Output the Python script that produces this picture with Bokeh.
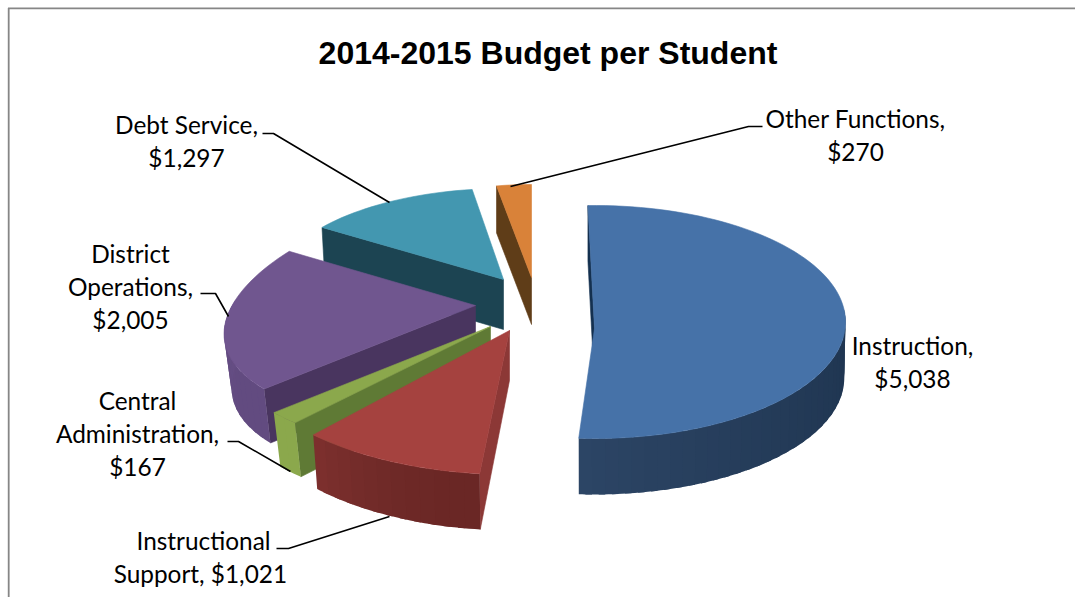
import math
from bokeh.plotting import figure
from bokeh.models import Range1d
from bokeh.core.properties import value
from bokeh.embed import file_html
from bokeh.resources import INLINE

# ---- data ----
TITLE = "2014-2015 Budget per Student"
categories = ["Instruction", "Instructional Support", "Central Administration",
              "District Operations", "Debt Service", "Other Functions"]
values = [5038, 1021, 167, 2005, 1297, 270]
label_lines = [
    ["Instruction,", "$5,038"],
    ["Instructional", "Support,  $1,021"],
    ["Central", "Administration,", "$167"],
    ["District", "Operations,", "$2,005"],
    ["Debt Service,", "$1,297"],
    ["Other Functions,", "$270"],
]

# ---- style / layout ----
top_col = ["#4672A8", "#A5423F", "#8BA84C", "#70568F", "#4397B0", "#D98239"]
rad_col = ["#14304F", "#8C3836", "#5F7A35", "#49355F", "#1C4452", "#5F3D18"]
wall_a = ["#2C4565", "#7E302E", "#8BA84C", "#6C528B", "#1C4452", "#5F3D18"]   # wall colour at slice end (left)
wall_b = ["#1B304A", "#6A2725", "#8BA84C", "#624B80", "#1C4452", "#5F3D18"]   # wall colour at slice start
ROT = -1.5
tip_x = [594, 509, 490, 475, 503, 531]
tip_y = [328, 330, 326, 305, 279, 277]
rx = [251, 285, 286, 248, 225, 203]
ry = [116.5, 144, 132, 115, 88, 93]
cy_off = [-6.5, 0, 0, 10, -3, 0]
persp = [0, 0, 0, 0.17, 0.05, 0]
nudge = [0, 2.4, 2, 3, 3, 1.5]
depth = [56, 50, 54, 54, 50, 47]
wx = [0.995, 0.98, 0.97, 0.97, 0.985, 1.0]
wy = [1.0, 1.04, 1.0, 1.0, 1.0, 1.0]
paint_order = [5, 4, 3, 2, 1, 0]

label_x = [912, 203, 137, 130, 186, 855]
label_y = [345, 540, 400, 253, 124, 118]
LINE_H = 33
leader_x = [[510, 748, 762], [262, 273, 389], [200, 215, 228], [227, 238, 290], [276, 288, 389]]
leader_y = [[186, 126, 126], [133, 133, 202], [293, 293, 316], [441, 441, 471], [548, 548, 516]]

FONT = "Lato"
FS = "24.4px"

p = figure(width=1075, height=597, output_backend="svg", toolbar_location=None,
           x_range=Range1d(0, 1075), y_range=Range1d(597, 0),
           min_border=0, outline_line_color=None)
p.axis.visible = False
p.grid.visible = False

p.line([8.2, 8.2], [7.5, 597], line_color="#868686", line_width=1.8)
p.line([7.5, 1075], [7.8, 7.8], line_color="#868686", line_width=1.8)


def lerp_col(c1, c2, t):
    a = [int(c1[i:i + 2], 16) for i in (1, 3, 5)]
    b = [int(c2[i:i + 2], 16) for i in (1, 3, 5)]
    return "#%02x%02x%02x" % tuple(round(a[i] + (b[i] - a[i]) * t) for i in range(3))


total = sum(values)
starts, a = [], ROT
for v in values:
    starts.append(a)
    a += v / total * 360


def pt(i, deg, low=False):
    t = math.radians(deg)
    u, w = math.sin(t), math.cos(t)
    dx = rx[i] * (1 - persp[i] * w) * u
    dy = cy_off[i] - ry[i] * w
    if low:
        return tip_x[i] + dx * wx[i], tip_y[i] + depth[i] + dy * wy[i]
    return tip_x[i] + dx, tip_y[i] + dy


for i in paint_order:
    a0 = starts[i] + nudge[i]
    a1 = a0 + values[i] / total * 360
    lw = 0.6
    # radial face at the start of the slice
    s_top, s_low = pt(i, a0), pt(i, a0, True)
    p.patch([tip_x[i], s_top[0], s_low[0], tip_x[i]],
            [tip_y[i], s_top[1], s_low[1], tip_y[i] + depth[i]],
            fill_color=rad_col[i], line_color=rad_col[i], line_width=lw)
    # outer wall, drawn in overlapping strips for the shading
    n = max(2, int((a1 - a0) / 3))
    for k in range(n):
        b0 = a0 + (a1 - a0) * k / n
        b1 = min(a1, a0 + (a1 - a0) * (k + 1) / n + 1.5)
        if math.cos(math.radians((b0 + b1) / 2)) > 0.1:
            continue
        c = lerp_col(wall_b[i], wall_a[i], ((k + 0.5) / n) ** 2)
        mm = 4
        qs = [pt(i, b0 + (b1 - b0) * j / mm) for j in range(mm + 1)]
        rs = [pt(i, b1 - (b1 - b0) * j / mm, True) for j in range(mm + 1)]
        p.patch([q[0] for q in qs + rs], [q[1] for q in qs + rs],
                fill_color=c, line_color=None)
    # top face
    m = max(4, int((a1 - a0) / 2))
    arc = [pt(i, a0 + (a1 - a0) * k / m) for k in range(m + 1)]
    p.patch([tip_x[i]] + [q[0] for q in arc], [tip_y[i]] + [q[1] for q in arc],
            fill_color=top_col[i], line_color=top_col[i], line_width=lw)

p.multi_line(leader_x, leader_y, line_color="#000000", line_width=1.6)

for i, lines in enumerate(label_lines):
    p.text([label_x[i]] * len(lines), [label_y[i] + LINE_H * k for k in range(len(lines))], text=lines,
           text_font=value(FONT), text_font_size=value(FS), text_color="#000000",
           text_align="center", text_baseline="middle")

p.text([547.5], [52], text=[TITLE], text_font=value("Liberation Sans"), text_font_style="bold",
       text_font_size=value("32px"), text_color="#000000", text_align="center", text_baseline="middle")

open("out.html", "w").write(file_html(p, INLINE))
